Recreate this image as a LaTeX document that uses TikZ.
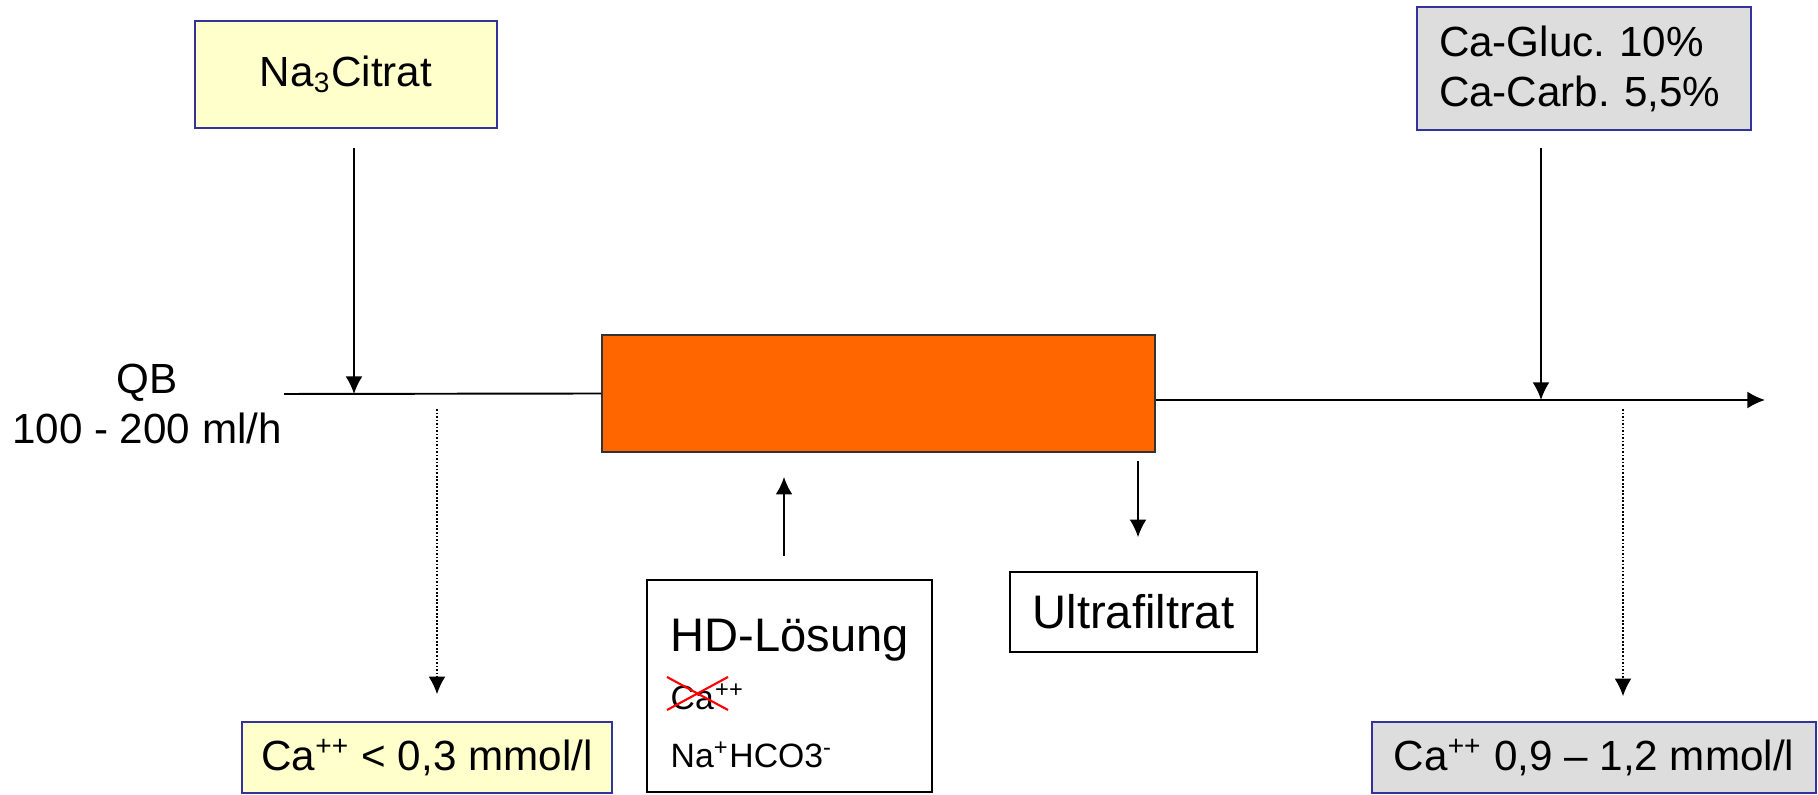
\documentclass[tikz,border=0pt]{standalone}
\usepackage{fontspec}
\setmainfont{Liberation Sans}
\usetikzlibrary{arrows.meta}

\definecolor{infuse}{RGB}{255,255,204}
\definecolor{labgray}{RGB}{221,221,221}
\definecolor{frameblue}{RGB}{51,51,153}
\definecolor{filterorange}{RGB}{255,102,0}

\tikzset{
	yellowbox/.style={draw=frameblue, fill=infuse, line width=0.45pt},
	graybox/.style={draw=frameblue, fill=labgray, line width=0.45pt},
	whitebox/.style={draw=black, line width=0.45pt},
	flow/.style={line width=0.55pt},
	sample/.style={line width=0.45pt, dash pattern=on 0.5pt off 0.5pt},
	tip/.style={-{Latex[length=5pt,width=4.8pt]}},
	hdtext/.style={anchor=base west, inner sep=0pt}
}

\begin{document}
\begin{tikzpicture}

\useasboundingbox (0,0) rectangle (18.18,-7.95);

\def \mdfont{\fontsize{12}{14.2}\selectfont}
\def \lgfont{\fontsize{13.4}{16}\selectfont}
\def \smfont{\fontsize{9.6}{11.5}\selectfont}
\def \lineL{-3.94}
\def \lineR{-4.00}

% boxes
\node [yellowbox, minimum width=3.02cm, minimum height=1.07cm, font=\mdfont] (citrat) at (3.46,-0.745) {Na\textsubscript{3}Citrat};
\node [graybox, minimum width=3.34cm, minimum height=1.23cm, text width=2.90cm, align=left, font=\mdfont] (gluc) at (15.84,-0.685) {Ca-Gluc.\ 10\%\\Ca-Carb.\ 5,5\%};
\node [align=center, font=\mdfont] (qb) at (1.47,-4.04) {QB\\100 - 200 ml/h};
\node [draw=black!80, fill=filterorange, line width=0.5pt, minimum width=5.53cm, minimum height=1.17cm] (filter) at (8.785,-3.935) {};

\node [whitebox, minimum width=2.85cm, minimum height=2.12cm] (hd) at (7.895,-6.86) {};
\node [hdtext, font=\lgfont] (hdtitle) at (6.70,-6.52) {HD-Lösung};
\node [hdtext, font=\smfont] (hdca) at (6.70,-7.10) {Ca};
\node [hdtext, font=\smfont] (hdcaion) at (hdca.base east) {\textsuperscript{++}};
\node [hdtext, font=\smfont] (hdna) at (6.70,-7.68) {Na\textsuperscript{+}HCO3\textsuperscript{-}};

\node [whitebox, minimum width=2.47cm, minimum height=0.80cm, font=\lgfont] (ultra) at (11.335,-6.12) {Ultrafiltrat};
\node [yellowbox, minimum width=3.70cm, minimum height=0.71cm, font=\mdfont] (lowca) at (4.27,-7.575) {Ca\textsuperscript{++} < 0,3 mmol/l};
\node [graybox, minimum width=4.44cm, minimum height=0.71cm, font=\mdfont] (highca) at (15.94,-7.575) {Ca\textsuperscript{++} 0,9 – 1,2 mmol/l};

% blood line
\coordinate (qbin) at (2.84,\lineL);
\coordinate (outend) at (17.65,\lineR);
\draw [flow] (qbin) -- (filter.west);
\draw [flow,tip] (filter.east |- outend) -- (outend);

% inflows and samples
\coordinate (citin) at (3.54,\lineL);
\draw [flow,tip,shorten <=0.19cm] (citrat.south -| citin) -- (citin);
\coordinate (calcin) at (15.41,\lineR);
\draw [flow,tip,shorten <=0.17cm] (gluc.south -| calcin) -- (calcin);

\coordinate (tapA) at (4.37,\lineL);
\draw [sample,tip,shorten <=0.15cm,shorten >=0.27cm] (tapA) -- (tapA |- lowca.north);
\coordinate (tapB) at (16.23,\lineR);
\draw [sample,tip,shorten <=0.09cm,shorten >=0.25cm] (tapB) -- (tapB |- highca.north);

\coordinate (hdx) at (7.84,0);
\draw [flow,tip,shorten <=0.23cm,shorten >=0.24cm] (hd.north -| hdx) -- (filter.south -| hdx);
\coordinate (ufx) at (11.38,0);
\draw [flow,tip,shorten <=0.08cm,shorten >=0.34cm] (filter.south -| ufx) -- (ultra.north -| ufx);

% no calcium in the dialysate
\draw [red, line width=0.6pt] ([shift={(-0.03,0)}]hdca.base west) -- ([shift={(0.58,0.33)}]hdca.base west);
\draw [red, line width=0.6pt] ([shift={(-0.03,0.33)}]hdca.base west) -- ([shift={(0.58,0)}]hdca.base west);

\end{tikzpicture}
\end{document}
